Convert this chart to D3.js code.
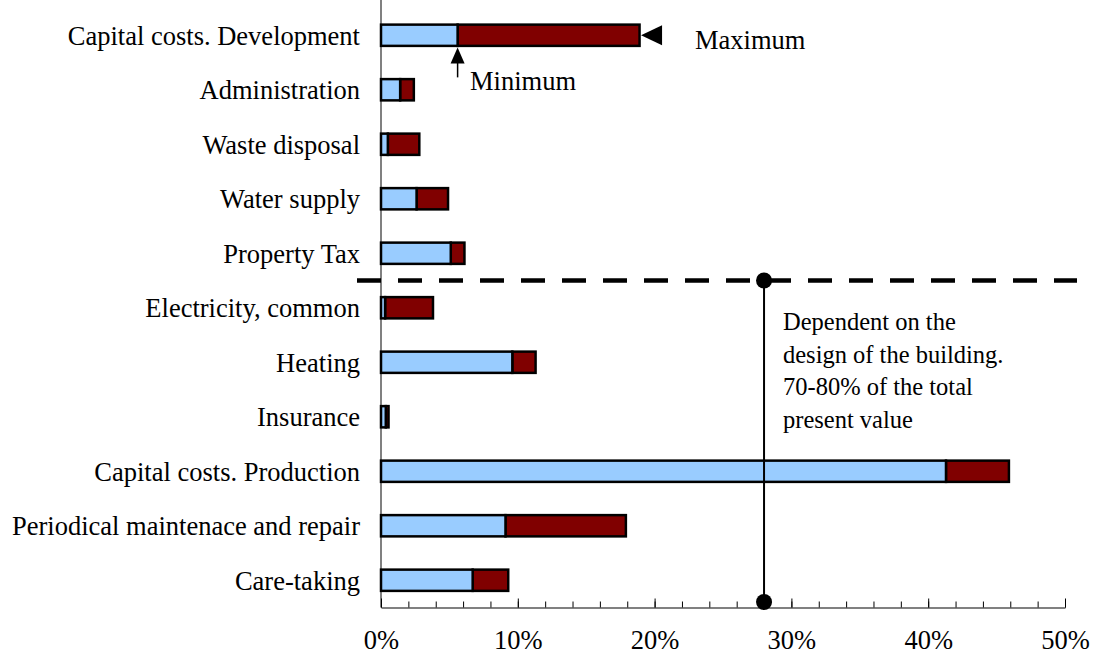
<!DOCTYPE html>
<html>
<head>
<meta charset="utf-8">
<script src="https://cdn.jsdelivr.net/npm/d3@7"></script>
<style>
  body { margin: 0; background: #fff; }
  text { font-family: "Liberation Serif", "Times New Roman", serif; fill: #000; }
</style>
</head>
<body>
<div id="chart"></div>
<script>
// categories top to bottom
var categories = ["Capital costs. Development", "Administration", "Waste disposal",
  "Water supply", "Property Tax", "Electricity, common", "Heating", "Insurance",
  "Capital costs. Production", "Periodical maintenace and repair", "Care-taking"];
var minValues = [5.6, 1.4, 0.5, 2.6, 5.1, 0.3, 9.6, 0.35, 41.3, 9.1, 6.7];
var maxValues = [18.9, 2.4, 2.8, 4.9, 6.1, 3.8, 11.3, 0.55, 45.9, 17.9, 9.3];
var tickLabels = [0, 10, 20, 30, 40, 50];
var noteLines = ["Dependent on the", "design of the building.", "70-80% of the total", "present value"];
var markerValue = 28;

var W = 1094, H = 659;
var svg = d3.select("#chart").append("svg")
    .attr("width", W)
    .attr("height", H);

var x = d3.scaleLinear().domain([0, 50]).range([381, 1065]);
var y = d3.scaleBand()
    .domain(categories)
    .range([8, 607.5])
    .paddingInner(0.61)
    .paddingOuter(0.305);

var rows = categories.map(function(c, i) {
  return {cat: c, min: minValues[i], max: maxValues[i]};
});

// vertical axis line
svg.append("line")
    .attr("x1", x(0)).attr("x2", x(0))
    .attr("y1", 0).attr("y2", 607.5)
    .attr("stroke", "#808080")
    .attr("stroke-width", 2);

// max part (dark red)
svg.selectAll("rect.max")
  .data(rows)
  .enter()
  .append("rect")
    .attr("class", "max")
    .attr("x", function(d) { return x(d.min); })
    .attr("y", function(d) { return y(d.cat); })
    .attr("width", function(d) { return x(d.max) - x(d.min); })
    .attr("height", y.bandwidth())
    .attr("fill", "#800000")
    .attr("stroke", "#000")
    .attr("stroke-width", 2.5);

// min part (light blue)
svg.selectAll("rect.min")
  .data(rows)
  .enter()
  .append("rect")
    .attr("class", "min")
    .attr("x", x(0))
    .attr("y", function(d) { return y(d.cat); })
    .attr("width", function(d) { return x(d.min) - x(0); })
    .attr("height", y.bandwidth())
    .attr("fill", "#99ccff")
    .attr("stroke", "#000")
    .attr("stroke-width", 2.5);

// category labels
svg.selectAll("text.cat")
  .data(categories)
  .enter()
  .append("text")
    .attr("class", "cat")
    .attr("x", 360)
    .attr("y", function(d) { return y(d) + y.bandwidth() / 2; })
    .attr("dy", "0.35em")
    .attr("text-anchor", "end")
    .style("font-size", "26.5px")
    .text(function(d) { return d; });

// x axis: minor ticks
svg.append("g")
    .attr("transform", "translate(0,607.5)")
    .call(d3.axisBottom(x).tickValues(d3.range(0, 51, 2)).tickSize(-6).tickSizeOuter(0).tickFormat(""))
    .call(function(g) {
      g.select(".domain").attr("stroke", "#808080").attr("stroke-width", 2);
      g.selectAll(".tick line").attr("stroke", "#000");
    });

// x axis: major ticks + labels
svg.append("g")
    .attr("transform", "translate(0,607.5)")
    .call(d3.axisBottom(x).tickValues(tickLabels).tickSize(-9).tickSizeOuter(0).tickPadding(23)
      .tickFormat(function(d) { return d + "%"; }))
    .call(function(g) {
      g.select(".domain").remove();
      g.selectAll(".tick line").attr("stroke", "#000");
      g.selectAll(".tick text")
        .style("font-family", "'Liberation Serif', 'Times New Roman', serif")
        .style("font-size", "26.5px")
        .attr("fill", "#000");
    });

// dashed separator between Property Tax and Electricity
var sepY = y("Property Tax") + y.bandwidth() / 2 + y.step() / 2;
svg.append("line")
    .attr("x1", 357).attr("x2", 1077)
    .attr("y1", sepY).attr("y2", sepY)
    .attr("stroke", "#000")
    .attr("stroke-width", 4.5)
    .attr("stroke-dasharray", "24,17");

// vertical marker with dots
var mx = x(markerValue);
svg.append("line")
    .attr("x1", mx).attr("x2", mx)
    .attr("y1", sepY).attr("y2", 602)
    .attr("stroke", "#000")
    .attr("stroke-width", 2);
svg.selectAll("circle.dot")
  .data([sepY, 602])
  .enter()
  .append("circle")
    .attr("cx", mx)
    .attr("cy", function(d) { return d; })
    .attr("r", 8)
    .attr("fill", "#000");

// note text
svg.selectAll("text.note")
  .data(noteLines)
  .enter()
  .append("text")
    .attr("class", "note")
    .attr("x", 783)
    .attr("y", function(d, i) { return 330 + i * 32.5; })
    .style("font-size", "24.5px")
    .text(function(d) { return d; });

// Maximum annotation
var dev = rows[0];
var devY = y(dev.cat) + y.bandwidth() / 2;
var tipX = x(dev.max) + 1.5;
svg.append("path")
    .attr("d", "M" + tipX + "," + devY + "L" + (tipX + 21) + "," + (devY - 10) + "L" + (tipX + 21) + "," + (devY + 10) + "Z")
    .attr("fill", "#000");
svg.append("text")
    .attr("x", 695)
    .attr("y", 49)
    .style("font-size", "26.5px")
    .text("Maximum");

// Minimum annotation
var minX = x(dev.min);
var tipY = y(dev.cat) + y.bandwidth() + 1.5;
svg.append("path")
    .attr("d", "M" + minX + "," + tipY + "L" + (minX + 7) + "," + (tipY + 16) + "L" + (minX - 7) + "," + (tipY + 16) + "Z")
    .attr("fill", "#000");
svg.append("line")
    .attr("x1", minX).attr("x2", minX)
    .attr("y1", tipY + 14).attr("y2", tipY + 30)
    .attr("stroke", "#000")
    .attr("stroke-width", 1.5);
svg.append("text")
    .attr("x", 470)
    .attr("y", 90)
    .style("font-size", "26.5px")
    .text("Minimum");
</script>
</body>
</html>
